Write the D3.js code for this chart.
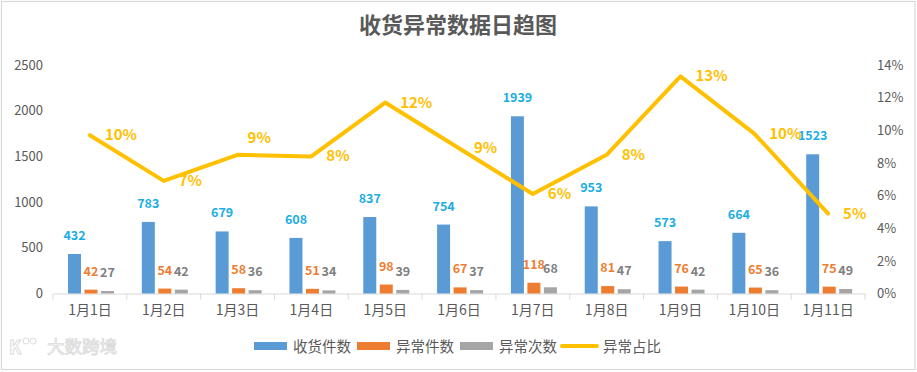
<!DOCTYPE html>
<html><head><meta charset="utf-8">
<script src="https://cdn.jsdelivr.net/npm/d3@7"></script>
<style>
html,body{margin:0;padding:0;background:#fff;}
svg{display:block;}
text{font-family:"Noto Sans CJK SC","Noto Sans",sans-serif;}
</style></head><body>
<svg id="chart" width="917" height="372"></svg>
<script>
const categories = ["1月1日","1月2日","1月3日","1月4日","1月5日","1月6日","1月7日","1月8日","1月9日","1月10日","1月11日"];
const received = [432, 783, 679, 608, 837, 754, 1939, 953, 573, 664, 1523];
const abnormalItems = [42, 54, 58, 51, 98, 67, 118, 81, 76, 65, 75];
const abnormalTimes = [27, 42, 36, 34, 39, 37, 68, 47, 42, 36, 49];
const abnormalRatio = [0.097, 0.069, 0.085, 0.084, 0.117, 0.089, 0.061, 0.085, 0.133, 0.098, 0.049];
const ratioLabels = ["10%","7%","9%","8%","12%","9%","6%","8%","13%","10%","5%"];
const leftTicks = [0, 500, 1000, 1500, 2000, 2500];
const rightTicks = [0, 0.02, 0.04, 0.06, 0.08, 0.10, 0.12, 0.14];
const seriesNames = ["收货件数","异常件数","异常次数","异常占比"];
const title = "收货异常数据日趋图";

const colors = {blue:"#5B9BD5", orange:"#ED7D31", gray:"#A5A5A5", line:"#FFC000",
  blueLbl:"#1CADE4", orangeLbl:"#ED7D31", grayLbl:"#7F7F7F", text:"#595959"};

const svg = d3.select("#chart");
svg.append("rect").attr("x",1.5).attr("y",1.5).attr("width",913.5).attr("height",368)
  .attr("fill","#fff").attr("stroke","#D9D9D9").attr("stroke-width",1.2);

svg.append("text").attr("x",458).attr("y",33).attr("text-anchor","middle")
  .attr("font-size",22).attr("font-weight","bold").attr("fill",colors.text).text(title);

const x0 = 53, x1 = 865, yTop = 65, yBase = 293.5;
const x = d3.scaleBand().domain(categories).range([x0, x1]).padding(0);
const yL = d3.scaleLinear().domain([0, 2500]).range([yBase, yTop]);
const yR = d3.scaleLinear().domain([0, 0.14]).range([yBase, yTop]);
const inner = d3.scaleBand().domain([0,1,2]).range([15, 61]).paddingInner(0.212).paddingOuter(0);

const gL = svg.append("g").attr("transform",`translate(${x0-10},0)`)
  .call(d3.axisLeft(yL).tickValues(leftTicks).tickSize(0).tickPadding(0).tickFormat(d3.format("d")));
gL.select(".domain").remove();
gL.selectAll("text").attr("font-size",13).attr("fill",colors.text).attr("font-family","Calibri,'Liberation Sans',sans-serif");

const gR = svg.append("g").attr("transform",`translate(${x1+12},0)`)
  .call(d3.axisRight(yR).tickValues(rightTicks).tickSize(0).tickPadding(0).tickFormat(d3.format(".0%")));
gR.select(".domain").remove();
gR.selectAll("text").attr("font-size",13).attr("fill",colors.text).attr("font-family","Calibri,'Liberation Sans',sans-serif");

const gX = svg.append("g").attr("transform",`translate(0,${yBase})`)
  .call(d3.axisBottom(x).tickSize(0).tickPadding(12));
gX.select(".domain").attr("stroke","#D9D9D9").attr("stroke-width",1);
gX.selectAll("text").attr("font-size",14).attr("fill",colors.text);
const bounds = categories.map(c => x(c)).concat([x1]);
gX.selectAll("line.sep").data(bounds).enter().append("line").attr("class","sep")
  .attr("x1",d=>d).attr("x2",d=>d).attr("y1",0).attr("y2",6)
  .attr("stroke","#D9D9D9").attr("stroke-width",1);

const series = [
  {vals: received, color: colors.blue, lbl: colors.blueLbl},
  {vals: abnormalItems, color: colors.orange, lbl: colors.orangeLbl},
  {vals: abnormalTimes, color: colors.gray, lbl: colors.grayLbl}
];
series.forEach((s, si) => {
  const g = svg.append("g");
  g.selectAll("rect").data(s.vals).enter().append("rect")
    .attr("x",(d,i)=>x(categories[i]) + inner(si))
    .attr("width",inner.bandwidth())
    .attr("y",d=>yL(d))
    .attr("height",d=>yBase - yL(d))
    .attr("fill",s.color);
  g.selectAll("text").data(s.vals).enter().append("text")
    .attr("x",(d,i)=>x(categories[i]) + inner(si) + inner.bandwidth()/2)
    .attr("y",d=>yL(d) - 14)
    .attr("text-anchor","middle")
    .attr("font-size",12.5).attr("font-weight","bold")
    .attr("font-family","Calibri,'Liberation Sans',sans-serif")
    .attr("fill",s.lbl).text(d=>d);
});

const cx = (i) => x(categories[i]) + x.bandwidth()/2;
const line = d3.line().x((d,i)=>cx(i)).y(d=>yR(d));
svg.append("path").datum(abnormalRatio).attr("d",line)
  .attr("fill","none").attr("stroke",colors.line).attr("stroke-width",4)
  .attr("stroke-linejoin","round").attr("stroke-linecap","round");
const lift = {2: [10, -17]};
svg.append("g").selectAll("text").data(abnormalRatio).enter().append("text")
  .attr("x",(d,i)=>cx(i) + (lift[i] ? lift[i][0] : 15))
  .attr("y",(d,i)=>yR(d) + 5 + (lift[i] ? lift[i][1] : 0))
  .attr("font-size",15).attr("font-weight","bold")
  .attr("font-family","Calibri,'Liberation Sans',sans-serif")
  .attr("fill",colors.line).text((d,i)=>ratioLabels[i]);

const legendItems = [
  {name: seriesNames[0], color: colors.blue, x: 254, type:"rect"},
  {name: seriesNames[1], color: colors.orange, x: 357, type:"rect"},
  {name: seriesNames[2], color: colors.gray, x: 460, type:"rect"},
  {name: seriesNames[3], color: colors.line, x: 562, type:"line"}
];
const lg = svg.append("g");
legendItems.forEach(it => {
  if (it.type === "rect") {
    lg.append("rect").attr("x",it.x).attr("y",342).attr("width",33).attr("height",8).attr("fill",it.color);
  } else {
    lg.append("line").attr("x1",it.x).attr("x2",it.x+35).attr("y1",346).attr("y2",346)
      .attr("stroke",it.color).attr("stroke-width",4).attr("stroke-linecap","round");
  }
  lg.append("text").attr("x",it.x + (it.type==="rect"?39:41)).attr("y",351.5)
    .attr("font-size",14.5).attr("fill",colors.text).text(it.name);
});

const wm = svg.append("g");
wm.append("text").attr("x",9).attr("y",354).attr("font-size",18).attr("font-weight","bold")
  .attr("fill","none").attr("stroke","#DCDCDC").attr("stroke-width",1).text("K");
wm.append("circle").attr("cx",26).attr("cy",341).attr("r",3).attr("fill","none").attr("stroke","#DCDCDC");
wm.append("circle").attr("cx",33).attr("cy",341).attr("r",3).attr("fill","none").attr("stroke","#DCDCDC");
wm.append("text").attr("x",47).attr("y",353).attr("font-size",17.5)
  .attr("fill","none").attr("stroke","#DCDCDC").attr("stroke-width",0.9).text("大数跨境");
</script>
</body></html>
